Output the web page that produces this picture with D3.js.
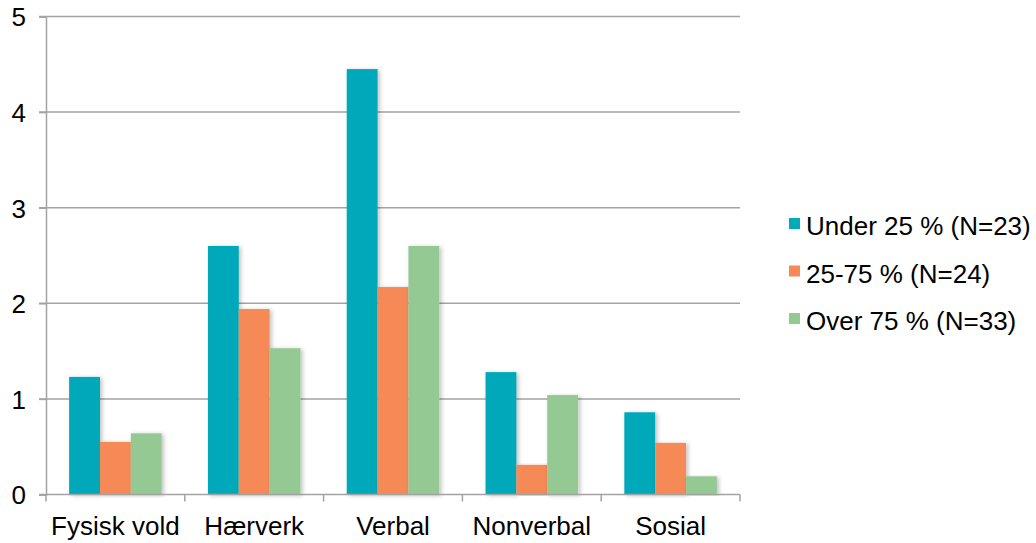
<!DOCTYPE html>
<html>
<head>
<meta charset="utf-8">
<script src="https://cdn.jsdelivr.net/npm/d3@7"></script>
<style>
  html, body { margin: 0; padding: 0; background: #fff; }
  text { font-family: "Liberation Sans", Arial, Helvetica, sans-serif; fill: #000; }
</style>
</head>
<body>
<svg id="chart" width="1036" height="543"></svg>
<script>
const categories = ["Fysisk vold", "Hærverk", "Verbal", "Nonverbal", "Sosial"];
const seriesNames = ["Under 25 % (N=23)", "25-75 % (N=24)", "Over 75 % (N=33)"];
const under25 = [1.23, 2.60, 4.45, 1.28, 0.86];
const mid2575 = [0.55, 1.94, 2.17, 0.31, 0.54];
const over75 = [0.64, 1.53, 2.60, 1.04, 0.19];
const seriesValues = [under25, mid2575, over75];
const colors = ["#05A9B9", "#F58A57", "#95C994"];
const yTicks = [0, 1, 2, 3, 4, 5];

const svg = d3.select("#chart");
const plotLeft = 46, plotRight = 740, plotTop = 16.5, plotBottom = 494.5;

const x0 = d3.scaleBand().domain(categories).range([plotLeft, plotRight]).padding(0);
const x1 = d3.scaleBand().domain(d3.range(seriesNames.length))
  .range([x0.bandwidth() / 6, x0.bandwidth() * 5 / 6]).padding(0);
const y = d3.scaleLinear().domain([0, 5]).range([plotBottom, plotTop]);

const defs = svg.append("defs");
const f = defs.append("filter").attr("id", "shadow").attr("x", "-20%").attr("y", "-5%").attr("width", "150%").attr("height", "110%");
f.append("feDropShadow").attr("dx", 2).attr("dy", 1).attr("stdDeviation", 2).attr("flood-color", "#000").attr("flood-opacity", 0.25);

// gridlines
svg.append("g").selectAll("line").data(yTicks.filter(d => d > 0)).join("line")
  .attr("x1", plotLeft - 7).attr("x2", plotRight)
  .attr("y1", d => y(d)).attr("y2", d => y(d))
  .attr("stroke", "#A3A3A3").attr("stroke-width", 1.5);

// y axis
const yAxis = svg.append("g").attr("transform", `translate(${plotLeft},0)`)
  .call(d3.axisLeft(y).tickValues(yTicks).tickSize(7).tickPadding(13).tickFormat(d3.format("d")));
yAxis.select(".domain").attr("stroke", "#A3A3A3").attr("stroke-width", 1.5);
yAxis.selectAll(".tick line").attr("stroke", "#A3A3A3").attr("stroke-width", 1.5);
yAxis.selectAll(".tick text").attr("font-size", 26).attr("font-family", "Liberation Sans, Arial, sans-serif").attr("fill", "#000").attr("dy", "0.36em");

// bars
const groups = svg.append("g").selectAll("g").data(categories).join("g")
  .attr("transform", d => `translate(${x0(d)},0)`);
groups.selectAll("rect").data((d, i) => seriesValues.map((s, j) => ({ j, v: s[i] }))).join("rect")
  .attr("x", d => x1(d.j)).attr("width", x1.bandwidth())
  .attr("y", d => y(d.v)).attr("height", d => y(0) - y(d.v))
  .attr("fill", d => colors[d.j]).attr("filter", "url(#shadow)");

// x axis
const xAxis = svg.append("g").attr("transform", `translate(0,${plotBottom})`)
  .call(d3.axisBottom(x0).tickSize(0).tickPadding(22));
xAxis.select(".domain").attr("stroke", "#A3A3A3").attr("stroke-width", 1.5).attr("d", `M${plotLeft - 7},0H${plotRight}`);
xAxis.selectAll(".tick text").attr("font-size", 26).attr("font-family", "Liberation Sans, Arial, sans-serif").attr("fill", "#000").attr("dy", "0.71em");
const bounds = categories.map(c => x0(c)).concat([plotRight]);
xAxis.append("g").selectAll("line").data(bounds).join("line")
  .attr("x1", d => d).attr("x2", d => d).attr("y1", 0).attr("y2", 7)
  .attr("stroke", "#A3A3A3").attr("stroke-width", 1.5);

// legend
const legend = svg.append("g").attr("transform", "translate(789,218)");
const items = legend.selectAll("g").data(seriesNames).join("g")
  .attr("transform", (d, i) => `translate(0,${i * 47.5})`);
items.append("rect").attr("width", 11).attr("height", 11).attr("fill", (d, i) => colors[i]);
items.append("text").attr("x", 17).attr("y", 17)
  .attr("font-size", 26).text(d => d);
</script>
</body>
</html>
